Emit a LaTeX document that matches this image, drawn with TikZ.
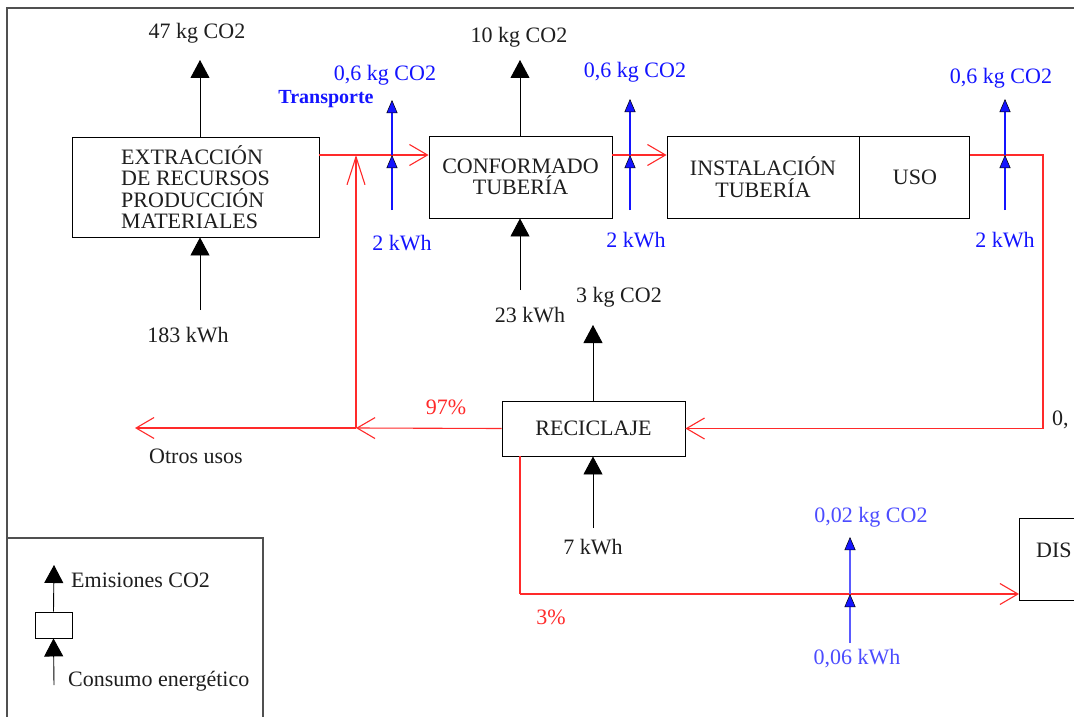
\documentclass[tikz,border=0pt]{standalone}
\usepackage{fontspec}
\setmainfont{Liberation Serif}
\usetikzlibrary{arrows.meta}
\definecolor{rd}{HTML}{FF2A2A}
\definecolor{bl}{HTML}{1414FF}
\definecolor{blt}{HTML}{5A5AFF}
\definecolor{txt}{HTML}{1E1E1E}
\definecolor{frm}{HTML}{505050}
\newcommand\lblf{\fontsize{22}{21.5}\selectfont}
\begin{document}
\begin{tikzpicture}[x=1pt,y=-1pt,
  box/.style={draw=black, line width=0.9pt, inner sep=0pt, align=center, font=\lblf, text=txt},
  lbl/.style={inner sep=0pt, font=\lblf, text=txt},
  blbl/.style={inner sep=0pt, font=\lblf, text=bl},
  rlbl/.style={inner sep=0pt, font=\lblf, text=rd},
  blk/.style={draw=black, line width=0.9pt, -{Triangle[length=18pt,width=19pt]}},
  blu/.style={draw=bl, line width=1.1pt, -{Triangle[length=13pt,width=11pt,fill=bl,color=black,line width=0.5pt]}},
  blu2/.style={draw=blt, line width=1.6pt, -{Triangle[length=13pt,width=11pt,fill=bl,color=black,line width=0.5pt]}},
  flow/.style={draw=rd, line width=1.1pt, -{Straight Barb[length=18pt,width=21pt]}},
  flowv/.style={draw=rd, line width=1.1pt, -{Straight Barb[length=28pt,width=18pt]}},
  flowp/.style={draw=rd, line width=1.1pt}
]
\clip (0,0) rectangle (1074,717);
\fill[white] (0,0) rectangle (1074,717);
% outer frame
\draw[frm, line width=1.2pt] (7,730) -- (7,8) -- (1090,8);
% legend frame
\draw[frm, line width=1.2pt] (7,730) -- (7,538) -- (263,538) -- (263,730);

% boxes
\node[box, minimum width=247pt, minimum height=100pt, align=left] (ext) at (195.5,187) {EXTRACCIÓN\\DE RECURSOS\\PRODUCCIÓN\\MATERIALES};
\node[box, minimum width=183pt, minimum height=82pt] (conf) at (520.5,177) {CONFORMADO\\TUBERÍA};
\node[box, minimum width=192pt, minimum height=82pt] (inst) at (763,177) {INSTALACIÓN\\TUBERÍA};
\node[box, minimum width=110pt, minimum height=82pt, anchor=west] (uso) at (inst.east) {USO};
\node[box, minimum width=183pt, minimum height=55pt] (rec) at (593.5,428.5) {RECICLAJE};
\node[box, minimum width=150pt, minimum height=82pt, anchor=north west] (dis) at (1019,518) {};
\node[lbl, anchor=west] (dist) at (1036,550) {DIS};

% helper coordinates
\coordinate (fy) at (0,155);
\coordinate (j1) at (356,428);
\coordinate (oend) at (135,428);
\coordinate (rc) at (1043,155);
\coordinate (rd1) at (520,594);

% red material flows
\draw[flow] (ext.east |- fy) -- (conf.west |- fy);
\draw[flow] (conf.east |- fy) -- (inst.west |- fy);
\draw[flowv] (j1) -- (j1 |- fy);
\draw[flow] (rec.west) -- (j1);
\draw[flow] (j1) -- (oend);
\draw[flow] (uso.east |- fy) -- (rc) -- (rc |- rec.east) -- (rec.east);
\draw[flowp] (rec.south -| rd1) -- (rd1);
\draw[flow] (rd1) -- (dis.west |- rd1);

% black emission / energy arrows
\node[lbl] (e1) at (197,33) {47 kg CO2};
\node[lbl] (k1) at (188,335) {183 kWh};
\coordinate (e1t) at (200,60);
\coordinate (k1b) at (200,310);
\draw[blk] (ext.north -| e1t) -- (e1t);
\draw[blk] (k1b) -- (ext.south -| k1b);

\node[lbl] (e2) at (519,37) {10 kg CO2};
\node[lbl] (k2) at (530,315) {23 kWh};
\coordinate (e2t) at (520,60);
\coordinate (k2b) at (520,290);
\draw[blk] (conf.north -| e2t) -- (e2t);
\draw[blk] (k2b) -- (conf.south -| k2b);

\node[lbl] (e3) at (619,297) {3 kg CO2};
\node[lbl] (k3) at (593,547) {7 kWh};
\coordinate (e3t) at (593,325);
\coordinate (k3b) at (593,528);
\draw[blk] (rec.north -| e3t) -- (e3t);
\draw[blk] (k3b) -- (rec.south -| k3b);

% blue transport arrows
\node[blbl] (t1e) at (385,75) {0,6 kg CO2};
\node[inner sep=0pt, font=\fontsize{20}{20}\selectfont\bfseries, text=bl] (tr) at (326,99) {Transporte};
\node[blbl] (t1k) at (402,243) {2 kWh};
\coordinate (b1s) at (392,210);
\coordinate (b1t) at (392,100);
\draw[blu] (b1s) -- (b1s |- fy);
\draw[blu] (b1s |- fy) -- (b1t);

\node[blbl] (t2e) at (635,72) {0,6 kg CO2};
\node[blbl] (t2k) at (636,240) {2 kWh};
\coordinate (b2s) at (630,210);
\coordinate (b2t) at (630,99);
\draw[blu] (b2s) -- (b2s |- fy);
\draw[blu] (b2s |- fy) -- (b2t);

\node[blbl] (t3e) at (1001,78) {0,6 kg CO2};
\node[blbl] (t3k) at (1005,240) {2 kWh};
\coordinate (b3s) at (1005,210);
\coordinate (b3t) at (1005,99);
\draw[blu] (b3s) -- (b3s |- fy);
\draw[blu] (b3s |- fy) -- (b3t);

\node[inner sep=0pt, font=\lblf, text=blt!80!bl] (t4e) at (871,517) {0,02 kg CO2};
\node[inner sep=0pt, font=\lblf, text=blt!80!bl] (t4k) at (857,659) {0,06 kWh};
\coordinate (b4s) at (850,643);
\coordinate (b4t) at (850,537);
\draw[blu2] (b4s) -- (b4s |- rd1);
\draw[blu2] (b4s |- rd1) -- (b4t);

% red labels and others
\node[rlbl] (p97) at (446,407) {97\%};
\node[rlbl] (p3) at (551,617) {3\%};
\node[lbl] (otros) at (196,456) {Otros usos};
\node[lbl, anchor=west] (zero) at (1052,420) {0,};

% legend
\node[box, minimum width=37pt, minimum height=26pt] (lb) at (53.5,625) {};
\coordinate (lt) at (54,565);
\coordinate (lbot) at (54,685);
\draw[blk] (lb.north) -- (lt);
\draw[blk] (lbot) -- (lb.south);
\node[lbl, anchor=west] (lem) at (71,580) {Emisiones CO2};
\node[lbl, anchor=west] (lce) at (68,681) {Consumo energético};
\end{tikzpicture}
\end{document}
